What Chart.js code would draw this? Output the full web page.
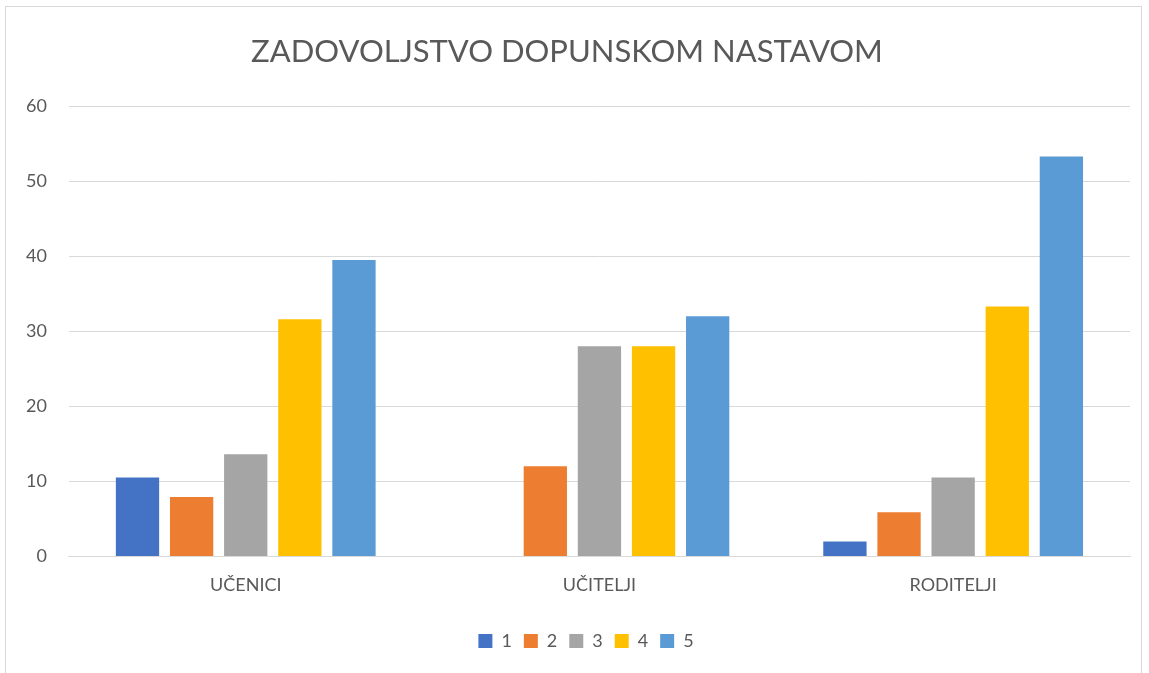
<!DOCTYPE html>
<html>
<head>
<meta charset="utf-8">
<script src="https://cdn.jsdelivr.net/npm/chart.js@4/dist/chart.umd.min.js"></script>
<style>
  html, body { margin: 0; padding: 0; background: #fff; }
  #frame {
    position: absolute; left: 5px; top: 6px; width: 1137px; height: 680px;
    border: 1px solid #d9d9d9; box-sizing: border-box;
  }
  #wrap { position: absolute; left: 0; top: 0; width: 1149px; height: 673px; }
</style>
</head>
<body>
<div id="frame"></div>
<div id="wrap"><canvas id="chart-result"></canvas></div>
<script>
const TITLE = 'ZADOVOLJSTVO DOPUNSKOM NASTAVOM';
const CATEGORIES = ['UČENICI', 'UČITELJI', 'RODITELJI'];
const SERIES_NAMES = ['1', '2', '3', '4', '5'];
const SERIES_COLORS = ['#4472c4', '#ed7d31', '#a5a5a5', '#ffc000', '#5b9bd5'];

// values per rating, one entry per category
const RATING_1 = [10.5, 0, 2.0];
const RATING_2 = [7.9, 12.0, 5.9];
const RATING_3 = [13.6, 28.0, 10.5];
const RATING_4 = [31.6, 28.0, 33.3];
const RATING_5 = [39.5, 32.0, 53.3];

const Y_TICKS = [0, 10, 20, 30, 40, 50, 60];

const FONT = 'Lato, "Open Sans", sans-serif';
const TEXT_COLOR = '#595959';

const values = [RATING_1, RATING_2, RATING_3, RATING_4, RATING_5];

// legend in the original sits a little right of the canvas centre
const legendShift = {
  id: 'legendShift',
  afterLayout(chart) {
    chart.legend.left += 19;
    chart.legend.right += 19;
  },
};

const ctx = document.getElementById('chart-result').getContext('2d');
new Chart(ctx, {
  type: 'bar',
  data: {
    labels: CATEGORIES,
    datasets: SERIES_NAMES.map((name, i) => ({
      label: name,
      data: values[i],
      backgroundColor: SERIES_COLORS[i],
      borderWidth: 0,
      barPercentage: 0.8,
      categoryPercentage: 0.765,
    })),
  },
  options: {
    responsive: true,
    maintainAspectRatio: false,
    animation: false,
    layout: {
      padding: { top: 33, left: 4, right: 19, bottom: 13 },
    },
    plugins: {
      title: {
        display: true,
        text: TITLE,
        color: TEXT_COLOR,
        font: { family: FONT, size: 31, weight: 'normal' },
        padding: { top: 0, bottom: 36 },
      },
      legend: {
        position: 'bottom',
        labels: {
          color: TEXT_COLOR,
          font: { family: FONT, size: 18 },
          boxWidth: 14,
          boxHeight: 14,
          padding: 12,
        },
      },
      tooltip: { enabled: false },
    },
    scales: {
      x: {
        grid: { display: false },
        border: { display: true, color: '#d9d9d9', width: 1 },
        ticks: {
          color: TEXT_COLOR,
          font: { family: FONT, size: 18 },
          padding: 10,
        },
        // extra room below the labels, before the legend
        afterFit: axis => { axis.height += 14; },
      },
      y: {
        min: 0,
        max: 60,
        afterBuildTicks: axis => {
          axis.ticks = Y_TICKS.map(v => ({ value: v }));
        },
        grid: { color: '#d9d9d9', lineWidth: 1, drawTicks: false },
        border: { display: false },
        ticks: {
          color: TEXT_COLOR,
          font: { family: FONT, size: 18 },
          padding: 22,
        },
      },
    },
  },
  plugins: [legendShift],
});
</script>
</body>
</html>
